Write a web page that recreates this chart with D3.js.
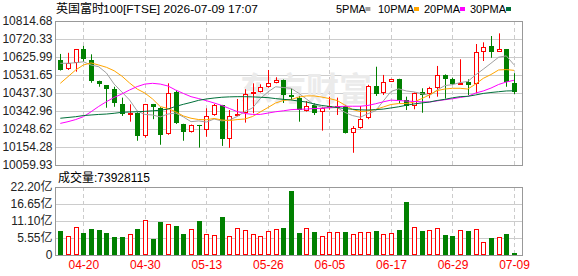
<!DOCTYPE html>
<html>
<head>
<meta charset="utf-8">
<script src="https://cdn.jsdelivr.net/npm/d3@7"></script>
<style>
    body { margin: 0; background: #fff; }
    svg { display: block; }
    text { font-family: "Liberation Sans", Arial, "Noto Sans CJK SC", sans-serif; }
</style>
</head>
<body>
<svg width="578" height="276"></svg>
<script>
// K线数据 (英国富时100)
var dates = ["04-15","04-16","04-17","04-20","04-21","04-22","04-23","04-24","04-27","04-28",
    "04-29","04-30","05-01","05-05","05-06","05-07","05-08","05-11","05-12","05-13",
    "05-14","05-15","05-18","05-19","05-20","05-21","05-22","05-26","05-27","05-28",
    "05-29","06-01","06-02","06-03","06-04","06-05","06-08","06-09","06-10","06-11",
    "06-12","06-15","06-16","06-17","06-18","06-19","06-22","06-23","06-24","06-25",
    "06-26","06-29","06-30","07-01","07-02","07-03","07-06","07-07","07-08","07-09"];

var open = [10610,10561,10593,10666,10610,10500,10478,10458,10380,10326,
    10334,10214,10378,10359,10221,10440,10275,10234,10268,10243,
    10321,10373,10198,10318,10334,10437,10444,10467,10491,10505,
    10427,10410,10343,10372,10337,10362,10362,10369,10229,10252,
    10305,10474,10436,10497,10509,10401,10370,10440,10431,10465,
    10532,10509,10487,10497,10484,10654,10684,10654,10666,10488];
var high = [10642,10648,10668,10684,10640,10502,10478,10470,10413,10378,
    10336,10380,10380,10363,10488,10452,10276,10272,10270,10357,
    10380,10375,10348,10406,10457,10488,10483,10558,10520,10508,
    10462,10422,10395,10383,10365,10418,10413,10375,10264,10369,
    10480,10575,10532,10512,10512,10418,10440,10462,10470,10579,
    10535,10517,10614,10509,10694,10703,10736,10750,10668,10541];
var low = [10555,10558,10549,10601,10491,10470,10360,10365,10317,10287,
    10187,10203,10300,10166,10218,10275,10187,10230,10151,10208,
    10318,10160,10150,10316,10282,10331,10440,10465,10488,10385,
    10400,10287,10340,10322,10240,10350,10322,10225,10124,10250,
    10300,10422,10427,10495,10383,10348,10352,10334,10410,10418,
    10408,10480,10485,10427,10436,10605,10622,10653,10470,10432];
var close = [10558,10596,10666,10614,10500,10483,10460,10383,10326,10332,
    10212,10378,10366,10219,10437,10278,10234,10268,10262,10318,
    10373,10198,10318,10325,10432,10444,10469,10491,10505,10427,
    10415,10348,10369,10333,10360,10369,10369,10229,10252,10300,
    10474,10431,10493,10509,10401,10370,10436,10425,10462,10532,
    10511,10485,10490,10479,10651,10677,10652,10666,10493,10444];

// 均线
var ma5 = [10593,10593,10596,10601,10584,10575,10542,10484,10443,10401,
    10343,10325,10322,10312,10327,10332,10312,10287,10291,10285,
    10301,10291,10296,10314,10340,10359,10408,10443,10470,10466,
    10462,10436,10406,10376,10363,10359,10361,10336,10319,10310,
    10329,10344,10395,10445,10459,10448,10443,10434,10424,10453,
    10476,10481,10492,10498,10532,10562,10593,10625,10632,10585];
var ma10 = [10488,10523,10558,10584,10595,10584,10572,10554,10526,10490,
    10458,10437,10406,10366,10356,10339,10317,10305,10298,10297,
    10304,10296,10293,10298,10301,10314,10338,10361,10385,10398,
    10403,10416,10422,10422,10416,10408,10398,10374,10351,10340,
    10343,10351,10364,10377,10382,10382,10390,10408,10427,10450,
    10458,10462,10462,10458,10484,10514,10534,10558,10560,10556];
var ma20 = [10278,10287,10298,10313,10339,10367,10392,10414,10432,10453,
    10471,10484,10488,10484,10474,10453,10435,10418,10408,10397,
    10385,10372,10356,10340,10330,10325,10325,10332,10339,10344,
    10350,10352,10353,10356,10357,10361,10365,10368,10368,10368,
    10372,10381,10391,10400,10398,10395,10393,10391,10390,10396,
    10402,10407,10414,10420,10437,10448,10463,10482,10495,10504];
var ma30 = [10305,10309,10313,10319,10322,10325,10327,10331,10336,10338,
    10339,10341,10344,10347,10353,10367,10378,10388,10399,10406,
    10411,10415,10417,10418,10418,10417,10415,10413,10408,10404,
    10401,10395,10390,10380,10372,10367,10361,10356,10352,10349,
    10348,10350,10353,10359,10365,10373,10380,10385,10390,10398,
    10404,10412,10418,10420,10427,10435,10440,10444,10448,10449];

// 成交量 (亿)
var volume = [7.8,6.2,9.3,7.2,8.5,8.1,7.2,5.9,5.9,6.7,
    8.5,11.4,5.2,10.7,10.0,9.4,6.8,8.5,11.1,6.8,
    6.4,12.4,6.2,8.8,8.0,7.0,6.2,7.8,8.5,8.9,
    20.8,7.2,8.8,7.5,6.2,7.5,7.5,7.5,7.0,7.5,
    7.5,7.8,6.8,7.2,8.1,17.2,9.1,7.8,8.1,8.8,
    6.5,6.2,8.1,7.8,8.5,4.1,5.5,5.9,6.8,0.73928115];

var priceTicks = [10059.93,10154.28,10248.62,10342.96,10437.30,10531.65,10625.99,10720.33,10814.68];
var volTicks = [0,5.55,11.10,16.65,22.20];
var dateTicks = ["04-20","04-30","05-13","05-26","06-05","06-17","06-29","07-09"];
var maNames = ["5PMA","10PMA","20PMA","30PMA"];

var RED = "#ff0000", GREEN = "#008000";
var maColors = ["#a0a0a0","#ffa500","#ff00ff","#00703a"];

var svg = d3.select("svg");
var left = 55.5, right = 522.5;
var pTop = 21, pBottom = 165;
var vTop = 187, vBottom = 255;

var x = d3.scalePoint().domain(dates).range([60.3, 514]);
var y = d3.scaleLinear().domain([priceTicks[0], priceTicks[priceTicks.length - 1]]).range([pBottom, pTop]);
var yv = d3.scaleLinear().domain([0, 22.2]).range([vBottom, vTop]);

function px(d) { return Math.round(x(d)); }

// 网格
function grid(scale, ticks, top, bottom) {
    var g = svg.append("g");
    g.selectAll("line.h").data(ticks).enter().append("line")
        .attr("x1", left).attr("x2", right)
        .attr("y1", function (d) { return Math.round(scale(d)) + 0.5; })
        .attr("y2", function (d) { return Math.round(scale(d)) + 0.5; })
        .attr("stroke", "#cccccc");
    g.selectAll("line.v").data(dateTicks).enter().append("line")
        .attr("x1", function (d) { return px(d) + 0.5; })
        .attr("x2", function (d) { return px(d) + 0.5; })
        .attr("y1", top).attr("y2", bottom)
        .attr("stroke", "#cccccc")
        .attr("stroke-dasharray", "4,3");
    g.append("rect")
        .attr("x", left).attr("y", top + 0.5)
        .attr("width", right - left).attr("height", bottom - top)
        .attr("fill", "none").attr("stroke", "#999999");
}
grid(y, priceTicks, pTop, pBottom);
grid(yv, volTicks, vTop, vBottom);

// 水印
svg.append("text")
    .attr("x", 240).attr("y", 101)
    .attr("font-size", 33).attr("font-weight", "bold")
    .attr("font-family", "Noto Sans CJK SC")
    .attr("fill", "#ebebeb")
    .text("东方财富");

// 坐标轴文字
var yAxis = svg.append("g")
    .attr("transform", "translate(" + (left - 2) + ",0)")
    .call(d3.axisLeft(y).tickValues(priceTicks).tickSize(0).tickPadding(1)
        .tickFormat(d3.format(".2f")));
yAxis.select(".domain").remove();
yAxis.selectAll("text").attr("font-size", 12).attr("fill", "#222")
    .attr("font-family", "Liberation Sans, Arial, sans-serif");

var vAxis = svg.append("g")
    .attr("transform", "translate(" + (left - 2) + ",0)")
    .call(d3.axisLeft(yv).tickValues(volTicks).tickSize(0).tickPadding(1)
        .tickFormat(function (d) { return d === 0 ? "0" : d3.format(".2f")(d) + "亿"; }));
vAxis.select(".domain").remove();
vAxis.selectAll("text").attr("font-size", 12).attr("fill", "#222");

var xAxis = svg.append("g")
    .attr("transform", "translate(0," + vBottom + ")")
    .call(d3.axisBottom(x).tickValues(dateTicks).tickSize(0).tickPadding(5));
xAxis.select(".domain").remove();
xAxis.selectAll("text").attr("font-size", 12).attr("fill", RED)
    .attr("font-family", "Liberation Sans, Arial, sans-serif");

// 蜡烛
var candles = svg.append("g").selectAll("g")
    .data(dates)
    .enter()
    .append("g");
candles.each(function (d, i) {
    var g = d3.select(this);
    var up = close[i] >= open[i];
    var c = up ? RED : GREEN;
    var cx = px(d);
    g.append("line")
        .attr("x1", cx + 0.5).attr("x2", cx + 0.5)
        .attr("y1", y(high[i])).attr("y2", y(low[i]))
        .attr("stroke", c);
    var top = Math.round(y(Math.max(open[i], close[i])));
    var bot = Math.round(y(Math.min(open[i], close[i])));
    if (bot - top < 1) bot = top + 1;
    if (up) {
        g.append("rect")
            .attr("x", cx - 1.5).attr("y", top + 0.5)
            .attr("width", 4).attr("height", Math.max(bot - top - 1, 1))
            .attr("fill", "#fff").attr("stroke", c);
    } else {
        g.append("rect")
            .attr("x", cx - 2).attr("y", top)
            .attr("width", 5).attr("height", bot - top)
            .attr("fill", c);
    }
});

// 均线
var maData = [ma5, ma10, ma20, ma30];
maData.forEach(function (arr, k) {
    var line = d3.line()
        .x(function (v, i) { return x(dates[i]); })
        .y(function (v) { return y(v); });
    svg.append("path")
        .datum(arr)
        .attr("fill", "none")
        .attr("stroke", maColors[k])
        .attr("stroke-width", 1)
        .attr("d", line);
});

// 成交量柱
svg.append("g").selectAll("rect")
    .data(volume)
    .enter()
    .append("rect")
    .attr("x", function (v, i) { return close[i] >= open[i] ? px(dates[i]) - 1.5 : px(dates[i]) - 2; })
    .attr("y", function (v, i) { return close[i] >= open[i] ? Math.round(yv(v)) + 0.5 : Math.round(yv(v)); })
    .attr("width", function (v, i) { return close[i] >= open[i] ? 4 : 5; })
    .attr("height", function (v, i) {
        var h = vBottom - Math.round(yv(v));
        return close[i] >= open[i] ? h - 1 : h;
    })
    .attr("fill", function (v, i) { return close[i] >= open[i] ? "#fff" : GREEN; })
    .attr("stroke", function (v, i) { return close[i] >= open[i] ? RED : "none"; });

// 标题
svg.append("text")
    .attr("x", 56).attr("y", 12.5)
    .attr("font-size", 12).attr("fill", "#000")
    .attr("font-family", "Noto Sans CJK SC")
    .text("英国富时");
svg.append("text")
    .attr("x", 103).attr("y", 12.5)
    .attr("font-size", 11).attr("fill", "#000")
    .attr("font-family", "Liberation Mono, monospace")
    .attr("textLength", 155).attr("lengthAdjust", "spacingAndGlyphs")
    .text("100[FTSE] 2026-07-09 17:07");

// 图例
var legendX = [336, 378, 424, 470];
var legend = svg.append("g").selectAll("g")
    .data(maNames)
    .enter()
    .append("g")
    .attr("transform", function (d, i) { return "translate(" + legendX[i] + ",0)"; });
legend.append("text")
    .attr("y", 12.5)
    .attr("font-size", 11)
    .attr("font-family", "Liberation Mono, monospace")
    .attr("fill", "#000")
    .text(function (d) { return d; });
legend.append("rect")
    .attr("x", function (d) { return d.length * 6.6 + 3; })
    .attr("y", 7).attr("width", 5).attr("height", 4)
    .attr("fill", function (d, i) { return maColors[i]; });

// 成交量标签
svg.append("text")
    .attr("x", 58).attr("y", 182)
    .attr("font-size", 12).attr("fill", "#000")
    .text("成交量:" + Math.round(volume[volume.length - 1] * 1e8));
</script>
</body>
</html>
